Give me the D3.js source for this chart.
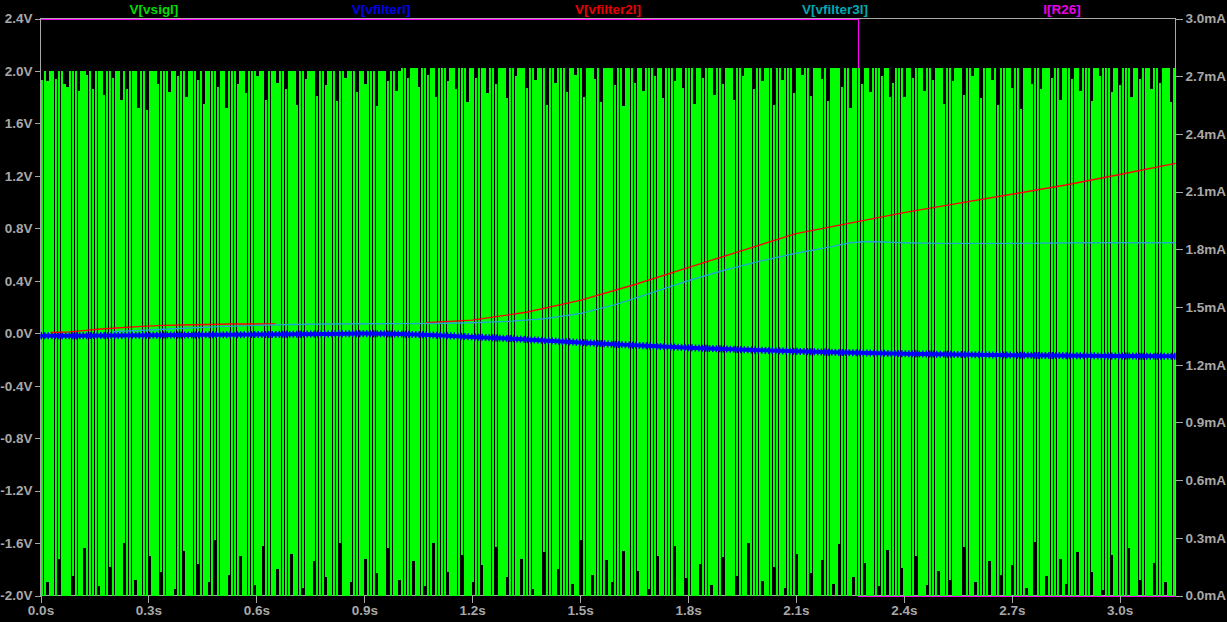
<!DOCTYPE html>
<html><head><meta charset="utf-8">
<script src="https://cdn.jsdelivr.net/npm/d3@7"></script>
<style>html,body{margin:0;padding:0;background:#000;overflow:hidden}svg{display:block}</style>
</head><body>
<svg id="chart" width="1227" height="622"></svg>
<script>
// ---------- data ----------
const tEnd = 3.155;
const xTicks = [0, 0.3, 0.6, 0.9, 1.2, 1.5, 1.8, 2.1, 2.4, 2.7, 3.0];
const xTickLabels = ["0.0s","0.3s","0.6s","0.9s","1.2s","1.5s","1.8s","2.1s","2.4s","2.7s","3.0s"];
const yLeftTicks = [-2.0,-1.6,-1.2,-0.8,-0.4,0.0,0.4,0.8,1.2,1.6,2.0,2.4];
const yLeftLabels = ["-2.0V","-1.6V","-1.2V","-0.8V","-0.4V","0.0V","0.4V","0.8V","1.2V","1.6V","2.0V","2.4V"];
const yRightTicks = [0.0,0.3,0.6,0.9,1.2,1.5,1.8,2.1,2.4,2.7,3.0];
const yRightLabels = ["0.0mA","0.3mA","0.6mA","0.9mA","1.2mA","1.5mA","1.8mA","2.1mA","2.4mA","2.7mA","3.0mA"];
const seriesNames = ["V[vsigl]","V[vfilterl]","V[vfilter2l]","V[vfilter3l]","I[R26]"];
const seriesColors = ["#00dd00","#0000e8","#e80000","#00a8b4","#e800e8"];

// V(vsig): per-stroke upper / lower extent of the fast oscillation (V)
const vsigHi = [
1.93,2,1.92,2,2,1.94,2,2,1.9,1.88,2,2,2,1.85,2,2,1.97,2,1.86,2,
2,2,1.82,2,2,1.95,2,2,1.78,2,1.86,2,2,2,1.72,2,2,1.7,2,2,
2,1.9,2,2,2,1.84,2,2,1.96,2,2,1.8,2,2,2,1.93,2,1.75,2,2,
2,2,1.88,2,2,1.72,2,2,2,1.9,2,2,1.83,2,2,2,1.96,2,2,1.78,
2,2,2,1.91,2,2,1.86,2,2,2,1.74,2,2,1.94,2,2,2,1.81,2,2,
1.89,2,2,2,1.77,2,2,1.95,2,2,2,1.84,2,2,1.9,2,2,2,1.73,2,
2,2,1.92,2,2,1.85,2,2.02,2.02,1.95,2.02,2.02,2.02,1.88,2.02,2.02,1.97,2.02,2.02,1.8,
2.02,2.02,2.02,1.92,2.02,2.02,1.86,2.02,2.02,2.02,1.76,2.02,2.02,1.95,2.02,2.02,2.02,1.83,2.02,2.02,
1.9,2.02,2.02,2.02,1.79,2.02,2.02,1.96,2.02,2.02,2.02,1.87,2.02,2.02,1.93,2.02,2.02,2.02,1.74,2.02,
2.02,1.91,2.02,2.02,2.02,1.84,2.02,2.02,1.97,2.02,2.02,1.8,2.02,2.02,2.02,1.94,2.02,1.76,2.02,2.02,
2.02,2.02,1.89,2.02,2.02,1.73,2.02,2.02,2.02,1.91,2.02,2.02,1.85,2.02,2.02,2.02,1.96,2.02,2.02,1.79,
2.02,2.02,2.02,1.92,2.02,2.02,1.87,2.02,2.02,2.02,1.75,2.02,2.02,1.95,2.02,2.02,2.02,1.82,2.02,2.02,
1.9,2.02,2.02,2.02,1.78,2.02,2.02,1.96,2.02,2.02,2.02,1.86,2.02,2.02,1.92,2.02,2.02,2.02,1.74,2.02,
2.02,1.93,2.02,2.02,2.02,1.83,2.02,2.02,1.97,2.02,2.02,1.81,2.02,2.02,2.02,1.94,2.02,1.77,2.02,2.02,
2.02,2.02,1.88,2.02,2.02,1.72,2.02,2.02,2.02,1.9,2.02,2.02,1.84,2.02,2.02,2.02,1.96,2.02,2.02,1.8,
1.91,2.02,2.02,2.02,1.8,2.02,2.02,1.95,2.02,2.02,2.02,1.85,2.02,2.02,1.93,2.02,2.02,2.02,1.75,2.02,
2.02,1.92,2.02,2.02,2.02,1.82,2.02,2.02,1.96,2.02,2.02,1.79,2.02,2.02,2.02,1.93,2.02,1.74,2.02,2.02,
2.02,2.02,1.87,2.02,2.02,1.71,2.02,2.02,2.02,1.9,2.02,2.02,1.86,2.02,2.02,2.02,1.95,2.02,2.02,1.78,
2.02,2.02,2.02,1.94,2.02,2.02,1.85,2.02,2.02,2.02,1.77,2.02,2.02,1.96,2.02,2.02,2.02,1.84,2.02,2.02,
1.89,2.02,2.02,2.02,1.8,2.02,2.02,1.94,2.02,2.02,2.02,1.86,2.02,2.02,1.91,2.02,2.02,2.02,1.76,2.02
];
const vsigLo = [
-2,-2,-1.9,-2,-2,-2,-1.72,-2,-2,-2,-2,-1.85,-2,-2,-2,-1.64,-2,-2,-2,-2,
-1.93,-2,-2,-2,-1.78,-2,-2,-2,-2,-1.6,-2,-2,-2,-1.88,-2,-2,-2,-2,-1.7,-2,
-2,-2,-1.82,-2,-2,-2,-2,-1.95,-2,-2,-1.66,-2,-2,-2,-2,-1.76,-2,-2,-2,-1.9,
-2,-1.58,-2,-2,-2,-2,-1.84,-2,-2,-2,-1.7,-2,-2,-2,-2,-1.92,-2,-2,-1.62,-2,
-2,-2,-2,-1.8,-2,-2,-2,-2,-1.68,-2,-2,-2,-1.94,-2,-2,-2,-1.74,-2,-2,-2,
-1.86,-2,-2,-2,-2,-1.6,-2,-2,-2,-1.9,-2,-2,-2,-2,-1.72,-2,-2,-2,-1.83,-2,
-2,-2,-1.64,-2,-2,-2,-1.88,-2,-2,-2,-2,-1.74,-2,-2,-2,-1.93,-2,-2,-1.6,-2,
-2,-2,-2,-1.82,-2,-2,-2,-2,-1.69,-2,-2,-2,-1.9,-2,-2,-1.77,-2,-2,-2,-2,
-1.63,-2,-2,-2,-1.86,-2,-2,-2,-2,-1.72,-2,-2,-2,-1.95,-2,-2,-2,-1.67,-2,-2,
-2,-2,-1.8,-2,-2,-2,-2,-1.91,-2,-2,-1.58,-2,-2,-2,-1.84,-2,-2,-2,-2,-1.73,
-2,-1.9,-2,-2,-2,-1.66,-2,-2,-2,-2,-1.81,-2,-2,-2,-1.95,-2,-2,-1.7,-2,-2,
-2,-2,-2,-1.62,-2,-2,-2,-1.87,-2,-2,-2,-2,-1.76,-2,-2,-2,-1.92,-2,-2,-2,
-1.71,-2,-2,-2,-2,-1.85,-2,-2,-2,-1.6,-2,-2,-2,-2,-1.89,-2,-2,-2,-1.78,-2,
-2,-2,-1.94,-2,-2,-2,-1.68,-2,-2,-2,-2,-1.83,-2,-2,-2,-1.73,-2,-2,-2,-1.91,
-2,-1.61,-2,-2,-2,-2,-1.86,-2,-2,-2,-1.75,-2,-2,-2,-2,-1.93,-2,-2,-1.65,-2,
-2,-2,-2,-1.79,-2,-2,-2,-2,-1.7,-2,-2,-2,-1.92,-2,-2,-2,-1.81,-2,-2,-2,
-1.88,-2,-2,-2,-2,-1.63,-2,-2,-2,-1.9,-2,-2,-2,-2,-1.74,-2,-2,-2,-1.84,-2,
-2,-2,-1.77,-2,-2,-2,-2,-1.94,-2,-2,-1.59,-2,-2,-2,-1.85,-2,-2,-2,-2,-1.72,
-2,-1.91,-2,-2,-2,-1.67,-2,-2,-2,-2,-1.82,-2,-2,-2,-1.96,-2,-2,-1.69,-2,-2,
-2,-2,-2,-1.64,-2,-2,-2,-1.88,-2,-2,-2,-2,-1.75,-2,-2,-2,-1.9,-2,-2,-2
];

// V(vfilter)
const vfilterT = [0,0.1,0.2,0.3,0.4,0.5,0.6,0.7,0.8,0.9,1.0,1.1,1.2,1.3,1.4,1.5,1.6,1.7,1.8,1.9,2.0,2.1,2.2,2.3,2.4,2.5,2.6,2.7,2.8,2.9,3.0,3.155];
const vfilterV = [-0.02,-0.019,-0.017,-0.015,-0.013,-0.012,-0.01,-0.008,-0.005,-0.003,-0.006,-0.015,-0.028,-0.04,-0.055,-0.07,-0.085,-0.098,-0.11,-0.12,-0.13,-0.138,-0.145,-0.151,-0.156,-0.16,-0.164,-0.167,-0.17,-0.172,-0.174,-0.176];
// V(vfilter2)  (NaN = no trace drawn)
const vfilter2T = [0.028,0.08,0.12,0.16,0.21,0.27,0.34,0.43,0.53,0.653,0.8,1.07,1.2,1.35,1.5,1.65,1.8,1.95,2.1,2.25,2.4,2.55,2.7,2.85,3.0,3.155];
const vfilter2V = [0.005,0.01,0.02,0.03,0.04,0.05,0.06,0.065,0.07,0.07,NaN,0.08,0.1,0.16,0.25,0.37,0.5,0.63,0.76,0.84,0.92,0.99,1.06,1.13,1.21,1.295];
// V(vfilter3)
const vfilter3T = [0.2,0.3,0.4,0.5,0.6,0.7,0.8,0.9,1.0,1.1,1.2,1.3,1.4,1.5,1.6,1.7,1.8,1.9,2.0,2.1,2.2,2.25,2.3,2.4,2.5,2.7,2.9,3.155];
const vfilter3V = [0.012,0.025,0.038,0.05,0.06,0.066,0.07,0.072,0.073,0.074,0.08,0.09,0.11,0.15,0.22,0.31,0.4,0.48,0.55,0.61,0.66,0.69,0.7,0.69,0.685,0.685,0.69,0.69];
// I(R26) in mA
const iR26T = [0, 2.274, 2.2745, 3.155];
const iR26V = [2.995, 2.995, -0.003, -0.003];

// ---------- layout ----------
const svg = d3.select("#chart");
const L = 40.5, R = 1175.5, T = 18.5, B = 595.5;
const x = d3.scaleLinear().domain([0, tEnd]).range([L, R]);
const yV = d3.scaleLinear().domain([-2.0, 2.4]).range([B, T]);
const yI = d3.scaleLinear().domain([0, 3.0]).range([B, T]);
const axisColor = "#a8a8a8";
const font = "'Liberation Sans', Arial, sans-serif";

svg.append("rect").attr("width",1227).attr("height",622).attr("fill","#000");

// plot frame
svg.append("rect").attr("x",L).attr("y",T).attr("width",R-L).attr("height",B-T)
  .attr("fill","none").attr("stroke",axisColor).attr("stroke-width",1).attr("shape-rendering","crispEdges");

// I(R26) (drawn underneath the voltage traces)
const lineI = d3.line().x(d => x(d[0])).y(d => yI(d[1]));
svg.append("path").attr("d", lineI(iR26T.map((t,i)=>[t, iR26V[i]])))
  .attr("fill","none").attr("stroke","#ff00ff").attr("stroke-width",1).attr("shape-rendering","crispEdges");

// V(vsig) strokes
const N = Math.min(vsigHi.length, vsigLo.length);
const dt = tEnd / N;
const vsigData = d3.range(N).map(i => ({t: (i + 0.5) * dt, hi: vsigHi[i], lo: vsigLo[i]}));
svg.append("g").attr("shape-rendering","crispEdges")
  .selectAll("rect").data(vsigData).join("rect")
  .attr("x", d => x(d.t) - 1.15)
  .attr("width", 2.3)
  .attr("y", d => yV(d.hi))
  .attr("height", d => yV(d.lo) - yV(d.hi))
  .attr("fill", "#00ff00");

// V(vfilter) thick noisy band
const lineV = d3.line().defined(d => !isNaN(d[1])).x(d => x(d[0])).y(d => yV(d[1]));
const vfData = vfilterT.map((t,i)=>[t, vfilterV[i]]);
svg.append("path").attr("d", lineV(vfData)).attr("fill","none").attr("stroke","#0000ff").attr("stroke-width",4);
svg.append("path").attr("d", lineV(vfData)).attr("fill","none").attr("stroke","#0000ff").attr("stroke-width",7).attr("stroke-dasharray","1.5,2");

// V(vfilter2)
svg.append("path").attr("d", lineV(vfilter2T.map((t,i)=>[t, vfilter2V[i]])))
  .attr("fill","none").attr("stroke","#ff0000").attr("stroke-width",1.4);
// V(vfilter3)
svg.append("path").attr("d", lineV(vfilter3T.map((t,i)=>[t, vfilter3V[i]])))
  .attr("fill","none").attr("stroke","#20a8d0").attr("stroke-width",1.4);

// axes
function styleAxis(g){
  g.select(".domain").remove();
  g.selectAll("line").attr("stroke", axisColor).attr("shape-rendering","crispEdges");
  g.selectAll("text").attr("fill", axisColor).attr("font-family", font).attr("font-size", 13.5).attr("font-weight","bold");
}
svg.append("g").attr("transform",`translate(${L},0)`)
  .call(d3.axisLeft(yV).tickValues(yLeftTicks).tickFormat((d,i)=>yLeftLabels[i]).tickSize(6).tickPadding(2).tickSizeOuter(0))
  .call(styleAxis);
svg.append("g").attr("transform",`translate(${R},0)`)
  .call(d3.axisRight(yI).tickValues(yRightTicks).tickFormat((d,i)=>yRightLabels[i]).tickSize(7).tickPadding(3).tickSizeOuter(0))
  .call(styleAxis);
svg.append("g").attr("transform",`translate(0,${B})`)
  .call(d3.axisBottom(x).tickValues(xTicks).tickFormat((d,i)=>xTickLabels[i]).tickSize(7).tickPadding(3).tickSizeOuter(0))
  .call(styleAxis);

// legend titles
svg.append("g").selectAll("text").data(seriesNames).join("text")
  .attr("x", (d,i) => L + (i + 0.5) * (R - L) / seriesNames.length)
  .attr("y", 14)
  .attr("text-anchor","middle")
  .attr("font-family", font).attr("font-size", 13.5).attr("font-weight","bold")
  .attr("fill", (d,i) => seriesColors[i])
  .text(d => d);
</script>
</body></html>
